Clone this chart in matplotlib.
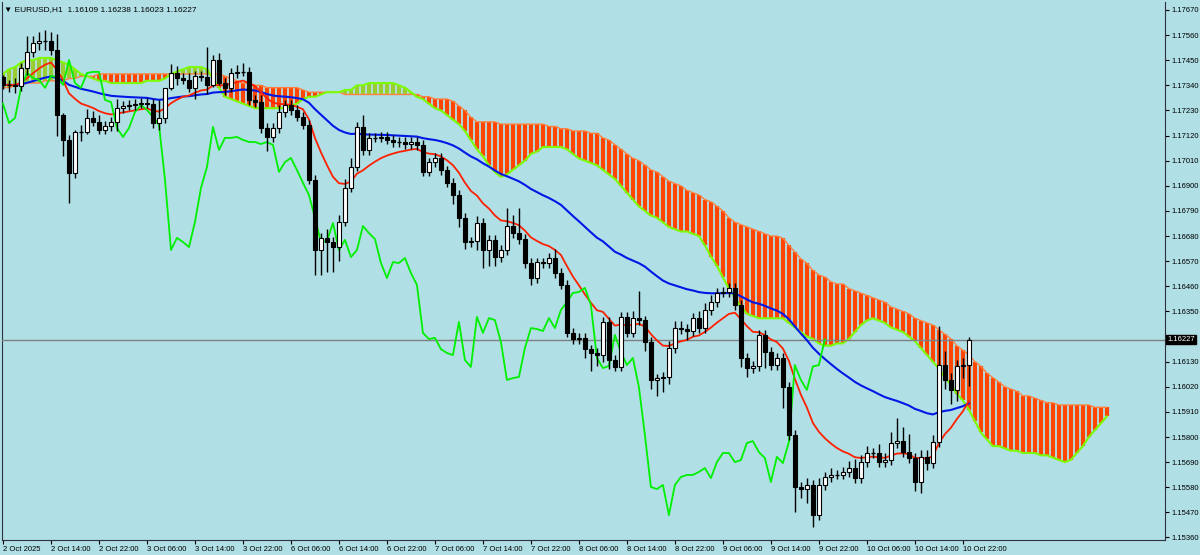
import numpy as np
import pandas as pd
import matplotlib
matplotlib.use("Agg")
import matplotlib.pyplot as plt
from matplotlib.collections import LineCollection

closes = [1.17342,1.17342,1.17337,1.17416,1.17486,1.17526,1.17534,1.17534,1.17495,1.17210,
 1.17101,1.16956,1.17136,1.17136,1.17197,1.17180,1.17145,1.17162,1.17180,1.17241,
 1.17250,1.17254,1.17259,1.17263,1.17259,1.17175,1.17197,1.17329,1.17394,1.17372,
 1.17364,1.17329,1.17381,1.17377,1.17342,1.17451,1.17350,1.17329,1.17394,1.17399,
 1.17399,1.17276,1.17267,1.17153,1.17114,1.17153,1.17223,1.17254,1.17232,1.17202,
 1.17167,1.16926,1.16619,1.16672,1.16654,1.16632,1.16742,1.16891,1.16983,1.17158,
 1.17057,1.17110,1.17110,1.17114,1.17101,1.17092,1.17092,1.17083,1.17092,1.17079,
 1.16961,1.17004,1.17022,1.16969,1.16913,1.16860,1.16759,1.16654,1.16658,1.16737,
 1.16619,1.16663,1.16588,1.16619,1.16724,1.16693,1.16667,1.16562,1.16496,1.16566,
 1.16562,1.16584,1.16518,1.16466,1.16256,1.16229,1.16234,1.16185,1.16168,1.16159,
 1.16304,1.16137,1.16107,1.16326,1.16256,1.16321,1.16312,1.16216,1.16050,1.16058,
 1.16063,1.16190,1.16277,1.16273,1.16264,1.16321,1.16277,1.16356,1.16391,1.16431,
 1.16435,1.16453,1.16378,1.16146,1.16102,1.16111,1.16247,1.16172,1.16115,1.16146,
 1.16019,1.15809,1.15581,1.15572,1.15590,1.15458,1.15590,1.15625,1.15634,1.15634,
 1.15647,1.15664,1.15620,1.15690,1.15730,1.15730,1.15690,1.15699,1.15774,1.15782,
 1.15734,1.15708,1.15603,1.15713,1.15686,1.15778,1.16115,1.16050,1.16006,1.16109,
 1.16115,1.16227]
first_open = 1.17377

wick_up_pips = [1,2,3,2,7,3,4,5,4,7, 1,2,1,3,4,3,3,2,2,4, 2,2,2,2,2,2,8,0,4,3,
 2,3,2,2,13,2,3,2,2,3, 4,2,2,3,2,2,3,2,2,2, 2,2,2,2,4,2,3,4,4,2,
 5,2,2,2,2,2,2,2,2,2, 2,2,2,2,2,2,2,2,2,3, 2,2,2,2,8,5,11,2,2,2,
 2,2,4,2,2,2,2,2,2,2, 2,2,2,2,2,3,12,2,2,2, 2,3,3,3,2,2,3,3,3,2,
 2,2,2,2,2,2,2,2,2,2, 2,2,2,2,3,2,3,2,3,2, 2,3,4,3,3,2,4,3,5,10,
 6,8,2,3,3,3,17,6,3,3, 3,1]
wick_dn_pips = [2,3,3,2,3,2,3,4,2,9, 7,13,2,4,1,2,2,2,2,4, 2,2,2,2,2,2,3,2,1,3,
 2,2,5,2,4,1,1,3,2,2, 2,2,2,2,6,2,2,2,2,2, 2,2,11,11,13,11,6,2,2,2,
 2,2,2,2,2,2,2,2,2,2, 2,2,2,2,2,4,4,3,2,4, 8,7,4,2,2,2,2,2,3,2,
 2,2,2,2,2,2,2,4,8,5, 3,4,2,2,2,2,2,4,4,7, 6,3,2,2,4,2,2,2,2,2,
 2,2,2,4,4,2,2,7,2,2, 9,2,11,4,6,5,2,2,2,2, 2,2,2,2,2,2,2,2,2,2,
 2,2,4,5,3,2,2,4,6,5, 5,9]

span_a = [1.1739,1.1741,1.1742,1.1744,1.1745, 1.1745,1.1746,1.1746,1.1746,1.1745,
 1.1744,1.1743,1.1741,1.1739,1.1738, 1.1737,1.1736,1.1736,1.1735,1.1735,
 1.1735,1.1735,1.1735,1.1735,1.1736, 1.1736,1.1736,1.1737,1.1739,1.1740,
 1.1741,1.1742,1.1742,1.1742,1.1741, 1.1737,1.1733,1.1729,1.1728,1.1727,
 1.1726,1.1725,1.1724,1.1724,1.1724, 1.1724,1.1724,1.1724,1.1725,1.1726,
 1.1728,1.1729,1.1729,1.1730,1.1731, 1.1731,1.1731,1.1732,1.1732,1.1734,
 1.1734,1.1735,1.1735,1.1735,1.1735, 1.1735,1.1734,1.1733,1.1731,1.1729,
 1.1728,1.1726,1.1724,1.1723,1.1721, 1.1719,1.1717,1.1714,1.1710,1.1706,
 1.1703,1.1699,1.1696,1.1694,1.1695, 1.1697,1.1699,1.1701,1.1704,1.1705,
 1.1707,1.1707,1.1707,1.1707,1.1706, 1.1704,1.1702,1.1701,1.1700,1.1699,
 1.1697,1.1695,1.1693,1.1690,1.1687, 1.1684,1.1681,1.1679,1.1677,1.1676,
 1.1674,1.1672,1.1671,1.1670,1.1670, 1.1669,1.1668,1.1664,1.1659,1.1655,
 1.1650,1.1645,1.1641,1.1637,1.1634, 1.1633,1.1632,1.1632,1.1632,1.1632,
 1.1632,1.1630,1.1628,1.1626,1.1624, 1.1623,1.1621,1.1620,1.1620,1.1621,
 1.1621,1.1623,1.1626,1.1629,1.1631, 1.1632,1.1631,1.1630,1.1628,1.1627,
 1.1626,1.1624,1.1622,1.1619,1.1616, 1.1613,1.1610,1.1606,1.1603,1.1599,
 1.1596,1.1592,1.1587,1.1582,1.1579, 1.1576,1.1576,1.1575,1.1574,1.1574,
 1.1573,1.1573,1.1573,1.1572,1.1572, 1.1571,1.1570,1.1569,1.1570,1.1573,
 1.1576,1.1580,1.1583,1.1586,1.1589]
span_b = [1.1733,1.1733,1.1734,1.1734,1.1735, 1.1735,1.1735,1.1736,1.1736,1.1736,
 1.1736,1.1737,1.1737,1.1738,1.1738, 1.1738,1.1739,1.1739,1.1739,1.1739,
 1.1739,1.1739,1.1739,1.1739,1.1739, 1.1739,1.1739,1.1739,1.1739,1.1739,
 1.1739,1.1739,1.1739,1.1739,1.1739, 1.1739,1.1739,1.1738,1.1737,1.1736,
 1.1735,1.1735,1.1734,1.1734,1.1733, 1.1733,1.1733,1.1733,1.1733,1.1733,
 1.1732,1.1731,1.1731,1.1731,1.1731, 1.1731,1.1731,1.1730,1.1730,1.1730,
 1.1730,1.1730,1.1730,1.1730,1.1730, 1.1730,1.1730,1.1730,1.1730,1.1730,
 1.1729,1.1729,1.1728,1.1728,1.1728, 1.1727,1.1725,1.1723,1.1720,1.1718,
 1.1718,1.1718,1.1718,1.1717,1.1717, 1.1717,1.1717,1.1717,1.1717,1.1717,
 1.1717,1.1716,1.1716,1.1715,1.1715, 1.1714,1.1714,1.1714,1.1713,1.1713,
 1.1711,1.1710,1.1708,1.1706,1.1704, 1.1702,1.1701,1.1699,1.1697,1.1696,
 1.1694,1.1692,1.1691,1.1690,1.1688, 1.1687,1.1686,1.1684,1.1683,1.1681,
 1.1679,1.1676,1.1674,1.1673,1.1672, 1.1671,1.1670,1.1669,1.1668,1.1668,
 1.1667,1.1664,1.1661,1.1658,1.1656, 1.1653,1.1651,1.1650,1.1648,1.1647,
 1.1647,1.1645,1.1644,1.1643,1.1642, 1.1641,1.1640,1.1639,1.1637,1.1636,
 1.1635,1.1634,1.1632,1.1631,1.1630, 1.1629,1.1627,1.1625,1.1623,1.1620,
 1.1618,1.1616,1.1613,1.1611,1.1608, 1.1606,1.1604,1.1602,1.1601,1.1600,
 1.1598,1.1598,1.1597,1.1596,1.1595, 1.1595,1.1594,1.1594,1.1594,1.1594,
 1.1594,1.1594,1.1593,1.1593,1.1593]

x_labels = ["2 Oct 2025","2 Oct 14:00","2 Oct 22:00","3 Oct 06:00","3 Oct 14:00","3 Oct 22:00",
 "6 Oct 06:00","6 Oct 14:00","6 Oct 22:00","7 Oct 06:00","7 Oct 14:00","7 Oct 22:00",
 "8 Oct 06:00","8 Oct 14:00","8 Oct 22:00","9 Oct 06:00","9 Oct 14:00","9 Oct 22:00",
 "10 Oct 06:00","10 Oct 14:00","10 Oct 22:00"]
y_ticks = [1.17670,1.17560,1.17450,1.17340,1.17230,1.17120,1.17010,1.16900,1.16790,1.16680,
 1.16570,1.16460,1.16350,1.16130,1.16020,1.15910,1.15800,1.15690,1.15580,1.15470,1.15360]
title = "EURUSD,H1  1.16109 1.16238 1.16023 1.16227"
last_price = 1.16227
chikou_shift = 24

BG = "#B0DFE5"
FONT = "Liberation Sans"
FS = 5.5
c = np.array(closes)
o = np.concatenate([[first_open], c[:-1]])
hi = np.maximum(o, c) + np.array(wick_up_pips) * 1e-4
lo = np.minimum(o, c) - np.array(wick_dn_pips) * 1e-4
n = len(c)
idx = np.arange(n)

fig = plt.figure(figsize=(12, 5.55), dpi=100)
fig.patch.set_facecolor(BG)
ax = fig.add_axes([2/1200, 15/555, 1163/1200, 538/555])
ax.set_facecolor(BG)
ax.set_xlim(-0.17, 193.7)
ax.set_ylim(1.15349, 1.17705)

a = np.array(span_a); b = np.array(span_b)
j = np.arange(len(a))
segs = [[(k, a[k]), (k, b[k])] for k in j]
cols = ["#FF4500" if b[k] >= a[k] else "#9ACD32" for k in j]
ax.add_collection(LineCollection(segs, colors=cols, linewidths=3.0, zorder=1))
ax.plot(j, b, color="#FF7F3F", lw=1.0, zorder=2)
ax.plot(j, a, color="#7CFC00", lw=1.5, zorder=2)

s = pd.Series(c)
red = s.ewm(span=13, adjust=False).mean()
blue = s.ewm(span=45, adjust=False).mean()
ax.plot(idx, blue, color="#0018E6", lw=1.5, zorder=4)
ax.plot(idx, red, color="#FF2000", lw=1.3, zorder=4)
ax.plot(idx[chikou_shift:] - chikou_shift, c[chikou_shift:], color="#00F000", lw=1.3, zorder=4)

ax.vlines(idx, lo, hi, color="black", lw=1.0, zorder=5)
for i in range(n):
    bot = min(o[i], c[i]); h = abs(c[i] - o[i])
    if h < 2e-5:
        ax.hlines(c[i], i - 0.35, i + 0.35, color="black", lw=1.0, zorder=6)
    else:
        fc = "white" if c[i] >= o[i] else "black"
        ax.bar(i, h, bottom=bot, width=0.62, color=fc, edgecolor="black", lw=0.8, zorder=6)

ax.axhline(last_price, color="#808080", lw=1.0, zorder=3)

ax.spines["top"].set_visible(False)
for sp in ["left", "right", "bottom"]:
    ax.spines[sp].set_color("#303040")
ax.yaxis.tick_right()
ax.set_yticks(y_ticks)
ax.set_yticklabels([f"{v:.5f}" for v in y_ticks], family=FONT)
ax.tick_params(axis="y", direction="out", length=3, labelsize=FS, pad=1.5, colors="black")
ax.set_xticks(np.arange(len(x_labels)) * 8)
ax.set_xticklabels(x_labels, ha="left", family=FONT)
ax.tick_params(axis="x", direction="out", length=3, labelsize=FS, pad=1.5)
ax.text(1.002, last_price, f"{last_price:.5f}", transform=ax.get_yaxis_transform(),
        fontsize=FS, family=FONT, color="white", va="center", ha="left",
        bbox=dict(facecolor="black", edgecolor="black", pad=0.8), clip_on=False)
ax.text(0.002, 0.992, "\u25bc " + title, transform=ax.transAxes, fontsize=6,
        family=["Liberation Sans", "DejaVu Sans"], va="top", ha="left")

fig.savefig("out.png", dpi=100, facecolor=BG)
